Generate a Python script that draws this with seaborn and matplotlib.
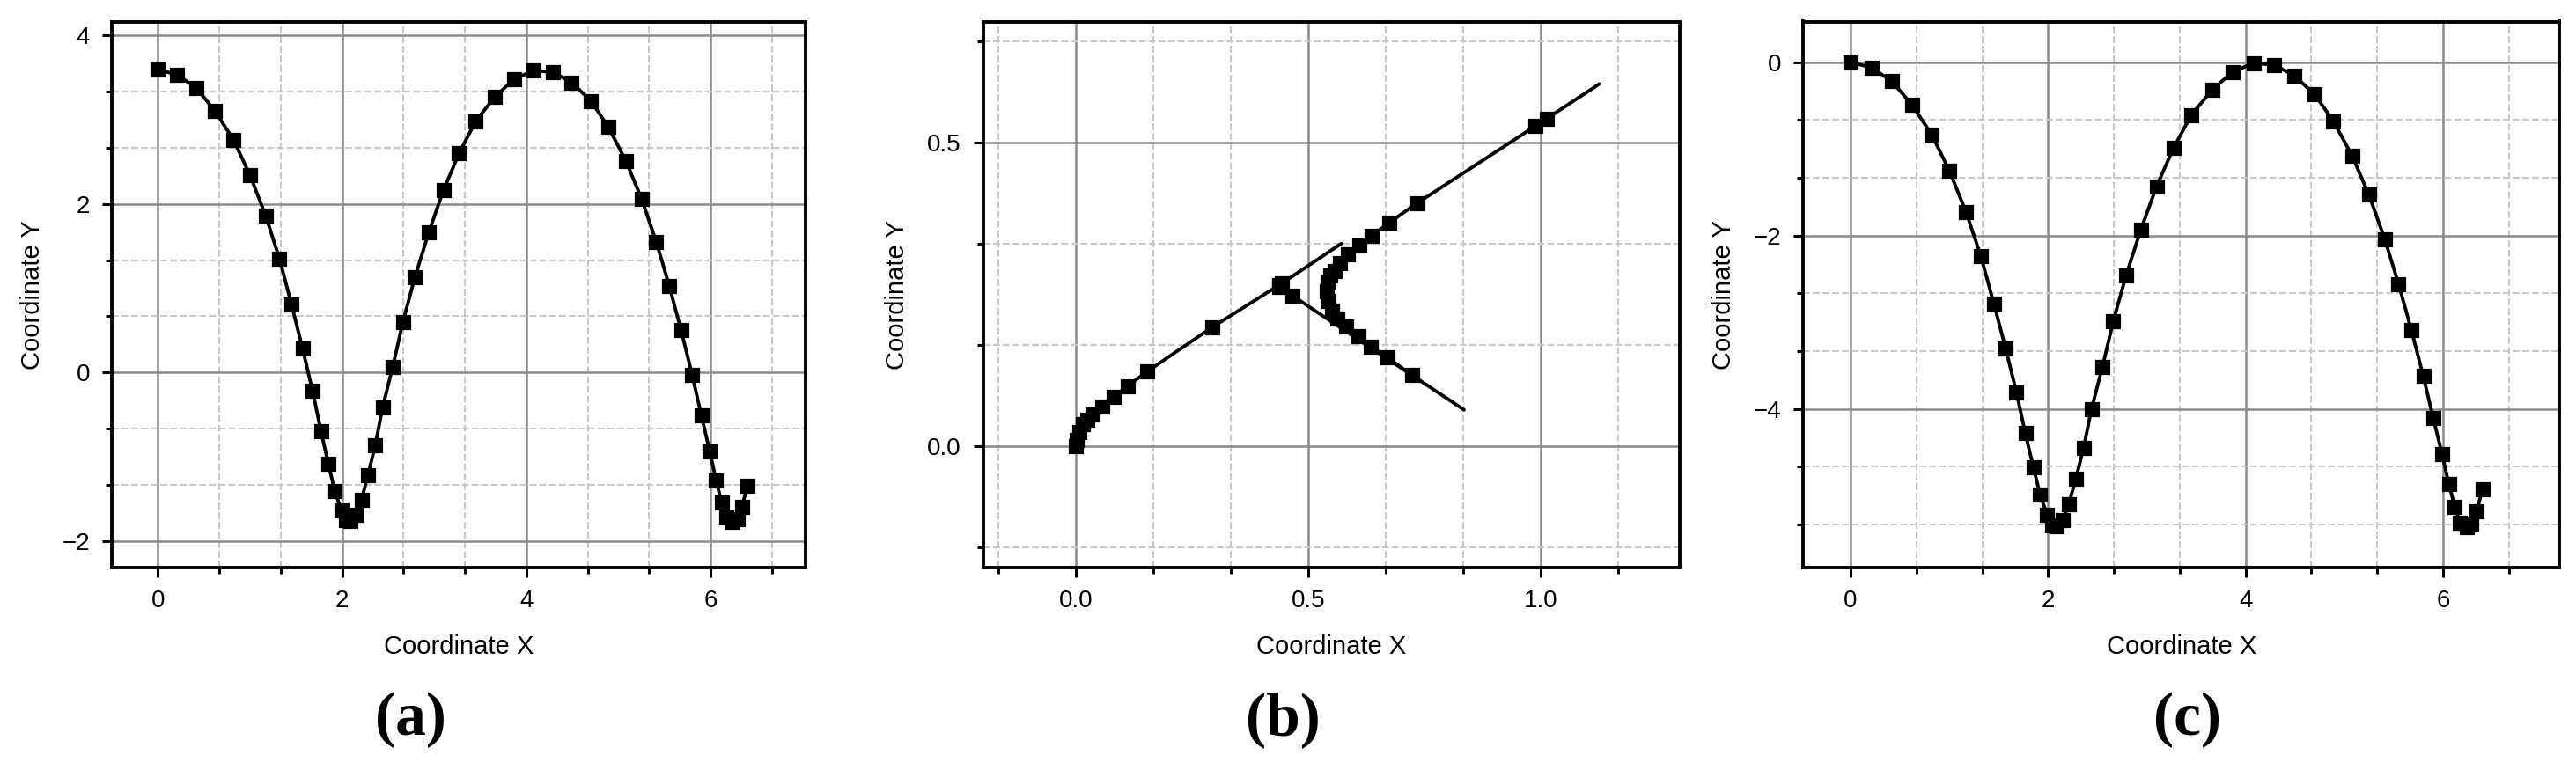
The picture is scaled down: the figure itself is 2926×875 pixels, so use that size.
import numpy as np
import pandas as pd
import matplotlib.pyplot as plt
import seaborn as sns
from matplotlib.ticker import MultipleLocator

# panel (a)
a_x = [0, 0.21, 0.42, 0.62, 0.82, 1.00, 1.17, 1.32, 1.45, 1.57, 1.68, 1.77, 1.85, 1.92, 1.99,
       2.04, 2.09, 2.15, 2.21, 2.28, 2.36, 2.44, 2.55, 2.66, 2.79, 2.94, 3.10, 3.27, 3.45, 3.66,
       3.87, 4.08, 4.29, 4.49, 4.70, 4.89, 5.08, 5.25, 5.41, 5.55, 5.68, 5.80, 5.90, 5.99, 6.06,
       6.12, 6.17, 6.24, 6.29, 6.34, 6.40]
a_y = [3.59, 3.53, 3.37, 3.10, 2.76, 2.34, 1.86, 1.35, 0.81, 0.29, -0.22, -0.69, -1.08, -1.40, -1.63,
       -1.75, -1.76, -1.69, -1.51, -1.22, -0.86, -0.41, 0.07, 0.60, 1.13, 1.66, 2.16, 2.60, 2.98, 3.27,
       3.48, 3.58, 3.56, 3.44, 3.22, 2.91, 2.51, 2.06, 1.55, 1.03, 0.50, -0.03, -0.51, -0.93, -1.28,
       -1.54, -1.72, -1.77, -1.74, -1.59, -1.34]

# panel (c)
c_x = a_x
c_y = [0.00, -0.06, -0.22, -0.49, -0.83, -1.25, -1.73, -2.24, -2.78, -3.30, -3.81, -4.28, -4.67, -4.99, -5.22,
       -5.34, -5.35, -5.28, -5.10, -4.81, -4.45, -4.00, -3.52, -2.99, -2.46, -1.93, -1.43, -0.99, -0.61, -0.32,
       -0.11, -0.01, -0.03, -0.15, -0.37, -0.68, -1.08, -1.53, -2.04, -2.56, -3.09, -3.62, -4.10, -4.52, -4.87,
       -5.13, -5.31, -5.36, -5.33, -5.18, -4.93]

# panel (b): three branches, last point of each has no marker
b1_x = [0, 0.002, 0.007, 0.014, 0.024, 0.036, 0.056, 0.081, 0.111, 0.153, 0.293, 0.438, 0.444, 0.571]
b1_y = [0, 0.010, 0.023, 0.036, 0.044, 0.052, 0.066, 0.081, 0.099, 0.123, 0.196, 0.266, 0.269, 0.334]
b2_x = [0.438, 0.466, 0.835]
b2_y = [0.262, 0.248, 0.060]
b3_x = [0.723, 0.671, 0.635, 0.608, 0.581, 0.563, 0.551, 0.543, 0.539, 0.541, 0.548, 0.557, 0.569,
        0.586, 0.610, 0.637, 0.675, 0.735, 0.989, 1.013, 1.126]
b3_y = [0.117, 0.146, 0.164, 0.182, 0.198, 0.211, 0.224, 0.240, 0.256, 0.272, 0.281, 0.289, 0.302,
        0.316, 0.331, 0.347, 0.369, 0.401, 0.528, 0.540, 0.597]

sns.set_style("white", {"xtick.bottom": True, "ytick.left": True,
                        "text.color": "black", "axes.labelcolor": "black",
                        "xtick.color": "black", "ytick.color": "black"})
plt.rcParams['font.family'] = ['Liberation Sans', 'DejaVu Sans']

fig = plt.figure(figsize=(29.26, 8.75), dpi=100)
ax_a = fig.add_axes([0.0434, 0.263, 0.2693, 0.709])
ax_b = fig.add_axes([0.3816, 0.263, 0.2706, 0.709])
ax_c = fig.add_axes([0.7000, 0.263, 0.2936, 0.709])


def draw(ax, x, y, marked=True):
    df = pd.DataFrame({"x": x, "y": y})
    sns.lineplot(data=df, x="x", y="y", ax=ax, sort=False, estimator=None,
                 color="black", linewidth=2.8)
    pts = df if marked else df.iloc[:-1]
    sns.scatterplot(data=pts, x="x", y="y", ax=ax, marker="s", s=120,
                    color="black", edgecolor="black", zorder=3)


def style(ax, major, xlim, ylim):
    ax.set_xlim(*xlim)
    ax.set_ylim(*ylim)
    ax.xaxis.set_major_locator(MultipleLocator(major[0]))
    ax.yaxis.set_major_locator(MultipleLocator(major[1]))
    ax.xaxis.set_minor_locator(MultipleLocator(major[0] / 3))
    ax.yaxis.set_minor_locator(MultipleLocator(major[1] / 3))
    ax.grid(True, which="major", color="#8a8a8a", linewidth=1.8)
    ax.grid(True, which="minor", color="#c8c8c8", linestyle="--", linewidth=1.5)
    ax.set_axisbelow(True)
    for sp in ax.spines.values():
        sp.set_linewidth(2.8)
        sp.set_color("black")
    ax.tick_params(which="major", direction="out", length=8, width=2.2,
                   labelsize=20, pad=10, bottom=True, left=True)
    ax.tick_params(which="minor", direction="out", length=5, width=2.2,
                   bottom=True, left=True)
    ax.set_xlabel("Coordinate X", fontsize=21, labelpad=18)
    ax.set_ylabel("Coordinate Y", fontsize=21, labelpad=14)


draw(ax_a, a_x, a_y)
style(ax_a, (2, 2), (-0.50, 7.03), (-2.31, 4.16))

draw(ax_b, b1_x, b1_y, marked=False)
draw(ax_b, b2_x, b2_y, marked=False)
draw(ax_b, b3_x, b3_y, marked=False)
style(ax_b, (0.5, 0.5), (-0.20, 1.30), (-0.20, 0.70))

draw(ax_c, c_x, c_y)
style(ax_c, (2, 2), (-0.48, 7.18), (-5.83, 0.47))

for xc, lab in zip([0.1595, 0.498, 0.849], ["(a)", "(b)", "(c)"]):
    fig.text(xc, 0.065, lab, ha="center", va="center", fontsize=50, color="black",
             fontweight="bold", family=["Liberation Serif", "DejaVu Serif"])

fig.savefig("out.png", dpi=100)
